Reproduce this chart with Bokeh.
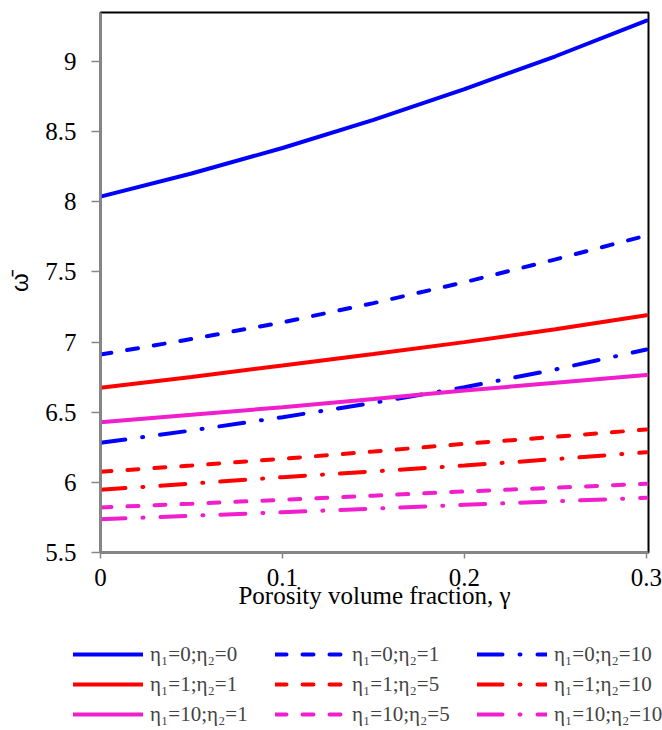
from bokeh.plotting import figure
from bokeh.layouts import column, row
from bokeh.models import Range1d, Legend, LegendItem, FixedTicker
from bokeh.embed import file_html
from bokeh.resources import INLINE

# porosity volume fraction
gamma = [0.0, 0.05, 0.1, 0.15, 0.2, 0.25, 0.3]

# dimensionless frequency for each (eta1; eta2) case
w_00 = [8.037, 8.202, 8.384, 8.584, 8.803, 9.038, 9.292]
w_01 = [6.911, 7.022, 7.141, 7.278, 7.427, 7.59, 7.76]
w_010 = [6.282, 6.37, 6.465, 6.567, 6.678, 6.805, 6.947]
w_11 = [6.674, 6.752, 6.833, 6.915, 7.0, 7.092, 7.191]
w_15 = [6.075, 6.12, 6.168, 6.22, 6.275, 6.325, 6.377]
w_110 = [5.947, 5.991, 6.037, 6.078, 6.12, 6.166, 6.215]
w_101 = [6.429, 6.482, 6.536, 6.595, 6.655, 6.71, 6.766]
w_105 = [5.821, 5.848, 5.876, 5.905, 5.935, 5.962, 5.990]
w_1010 = [5.737, 5.762, 5.787, 5.813, 5.84, 5.865, 5.890]

labels = ["η₁=0;η₂=0", "η₁=0;η₂=1", "η₁=0;η₂=10",
          "η₁=1;η₂=1", "η₁=1;η₂=5", "η₁=1;η₂=10",
          "η₁=10;η₂=1", "η₁=10;η₂=5", "η₁=10;η₂=10"]
series = [w_00, w_01, w_010, w_11, w_15, w_110, w_101, w_105, w_1010]

x_ticks = [0, 0.1, 0.2, 0.3]
x_tick_labels = ["0", "0.1", "0.2", "0.3"]
y_ticks = [5.5, 6, 6.5, 7, 7.5, 8, 8.5, 9]
y_tick_labels = ["5.5", "6", "6.5", "7", "7.5", "8", "8.5", "9"]

BLUE = "#0000FF"
RED = "#FF0000"
MAG = "#F01ECC"
colors = [BLUE, BLUE, BLUE, RED, RED, RED, MAG, MAG, MAG]
SOLID = "solid"
DASH = "11 16"
DASHDOT = "25 17 1 17"
dashes = [SOLID, DASH, DASHDOT] * 3

p = figure(width=662, height=630, output_backend="svg", toolbar_location=None,
           x_range=Range1d(0, 0.3011), y_range=Range1d(5.5, 9.35),
           min_border_left=100, min_border_right=14, min_border_top=12,
           min_border_bottom=78)
p.grid.visible = False
p.outline_line_color = "black"
p.outline_line_width = 2
p.outline_line_alpha = 1.0

for ys, c, d in zip(series, colors, dashes):
    p.line(gamma, ys, line_color=c, line_width=4, line_dash=d, line_cap="round")

FONT = "Liberation Serif"
GRAY = "#868686"
for ax in (p.xaxis[0], p.yaxis[0]):
    ax.axis_line_color = GRAY
    ax.axis_line_width = 2.5
    ax.major_tick_line_color = GRAY
    ax.major_tick_line_width = 1.5
    ax.minor_tick_line_color = None
    ax.major_tick_in = 0
    ax.major_label_text_font = FONT
    ax.major_label_text_font_size = "25px"
    ax.major_label_text_color = "black"
    ax.axis_label_text_font_style = "normal"
    ax.axis_label_text_color = "black"

p.xaxis.ticker = FixedTicker(ticks=x_ticks)
p.yaxis.ticker = FixedTicker(ticks=y_ticks)
p.xaxis.major_label_overrides = {(int(v) if v == int(v) else v): s for v, s in zip(x_ticks, x_tick_labels)}
p.yaxis.major_label_overrides = {(int(v) if v == int(v) else v): s for v, s in zip(y_ticks, y_tick_labels)}
p.xaxis.major_tick_out = 6
p.yaxis.major_tick_out = 9
p.xaxis.major_label_standoff = 10
p.yaxis.major_label_standoff = 15

p.xaxis.axis_label = "Porosity volume fraction, γ"
p.xaxis.axis_label_text_font = FONT
p.xaxis.axis_label_text_font_size = "25px"
p.xaxis.axis_label_standoff = -7

p.yaxis.axis_label = "ω\u0304"
p.yaxis.axis_label_text_font = "Liberation Sans"
p.yaxis.axis_label_text_font_size = "24px"
p.yaxis.axis_label_standoff = 9

# legend strip below the chart (sample renderers carry no visible data)
lg = figure(width=662, height=100, output_backend="svg", toolbar_location=None,
            x_range=Range1d(0, 1), y_range=Range1d(0, 1),
            min_border_left=0, min_border_right=0, min_border_top=0, min_border_bottom=0)
lg.axis.visible = False
lg.grid.visible = False
lg.outline_line_color = None

nan = float("nan")
items = []
for lab, c, d in zip(labels, colors, dashes):
    r = lg.line(x=[nan], y=[nan], line_color=c, line_width=4, line_dash=d, line_cap="round")
    items.append(LegendItem(label=lab, renderers=[r]))

legend = Legend(items=items, orientation="horizontal", ncols=3,
                location=(73, 3), label_text_font=FONT, label_text_font_size="21px",
                glyph_width=70, glyph_height=26, label_height=26, label_width=121,
                label_standoff=7, spacing=4, padding=0, margin=0,
                border_line_color=None, background_fill_alpha=0)
lg.add_layout(legend, "center")

open("out.html", "w").write(file_html(column(p, row(lg), spacing=0), INLINE))
